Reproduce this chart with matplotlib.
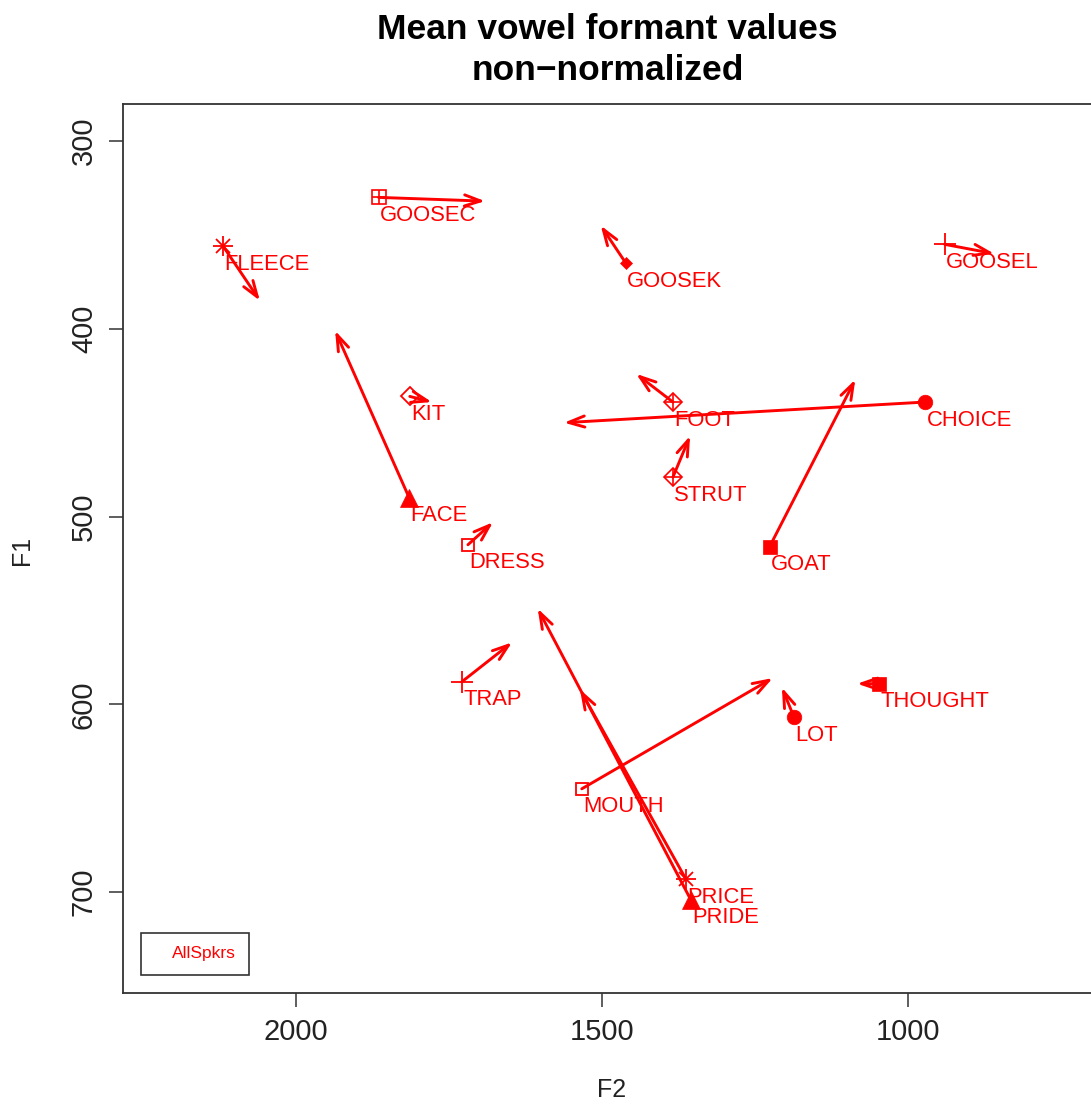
import matplotlib
matplotlib.use("Agg")
import matplotlib.pyplot as plt
from matplotlib.patches import FancyArrowPatch
from matplotlib.lines import Line2D

plt.rcParams["font.family"] = ["Liberation Sans", "DejaVu Sans"]

# Mean formant values per vowel: nucleus (start) and glide target (end), in Hz
vowels = ["FLEECE", "GOOSEC", "GOOSEK", "GOOSEL", "KIT", "FACE", "DRESS", "TRAP",
          "FOOT", "STRUT", "CHOICE", "GOAT", "THOUGHT", "LOT", "MOUTH", "PRICE", "PRIDE"]
f2_start = [2119, 1865, 1461, 940, 1814, 1815, 1719, 1729,
            1384, 1384, 972, 1226, 1047, 1186, 1533, 1363, 1355]
f1_start = [356, 330, 365, 355, 436, 490, 515, 588,
            439, 479, 439, 516, 589, 607, 645, 693, 704]
f2_end = [2059, 1691, 1502, 859, 1778, 1936, 1678, 1647,
          1444, 1356, 1562, 1086, 1083, 1206, 1221, 1536, 1605]
f1_end = [385, 332, 345, 360, 439, 401, 503, 567,
          424, 457, 450, 427, 589, 591, 586, 592, 549]
# R-style plotting symbols for each vowel
symbols = ["asterisk", "boxplus", "diamond_filled", "plus", "diamond", "triangle", "square", "plus",
           "diamondplus", "diamondplus", "circle", "square_filled", "square_filled", "circle",
           "square", "asterisk", "triangle"]

speaker = "AllSpkrs"
col = "#ff0000"


def draw_symbol(ax, x, y, kind):
    kw = dict(color=col, linestyle="none", zorder=3)
    if kind == "asterisk":
        ax.plot(x, y, marker="+", ms=14, mew=1.3, **kw)
        ax.plot(x, y, marker="x", ms=10, mew=1.3, **kw)
    elif kind == "plus":
        ax.plot(x, y, marker="+", ms=16, mew=1.3, **kw)
    elif kind == "boxplus":
        ax.plot(x, y, marker="s", ms=10, mew=1.2, mfc="none", **kw)
        ax.plot(x, y, marker="+", ms=10, mew=1.2, **kw)
    elif kind == "diamond":
        ax.plot(x, y, marker="D", ms=9.5, mew=1.3, mfc="none", **kw)
    elif kind == "diamondplus":
        ax.plot(x, y, marker="D", ms=9.5, mew=1.2, mfc="none", **kw)
        ax.plot(x, y, marker="+", ms=12.5, mew=1.2, **kw)
    elif kind == "diamond_filled":
        ax.plot(x, y, marker="D", ms=6, mew=0.5, **kw)
    elif kind == "triangle":
        ax.plot(x, y, marker="^", ms=13, mew=0.5, **kw)
    elif kind == "square":
        ax.plot(x, y, marker="s", ms=9, mew=1.3, mfc="none", **kw)
    elif kind == "square_filled":
        ax.plot(x, y, marker="s", ms=10.5, mew=0.5, **kw)
    elif kind == "circle":
        ax.plot(x, y, marker="o", ms=10.5, mew=0.5, **kw)


fig = plt.figure(figsize=(10.91, 11.06), dpi=100)
ax = fig.add_axes([0.1127, 0.1024, 0.8937, 0.8035])

for name, x0, y0, x1, y1, sym in zip(vowels, f2_start, f1_start, f2_end, f1_end, symbols):
    arrow = FancyArrowPatch((x0, y0), (x1, y1),
                            arrowstyle="->,head_length=0.58,head_width=0.2",
                            mutation_scale=20, lw=2.1, color=col,
                            shrinkA=0, shrinkB=0, zorder=2)
    ax.add_patch(arrow)
    draw_symbol(ax, x0, y0, sym)
    ax.annotate(name, (x0, y0), xytext=(1, -17), textcoords="offset points",
                ha="left", va="baseline", fontsize=15.8, color=col, zorder=4)

# formant axes are reversed, as in a vowel chart
ax.set_xlim(2282.7, 689.5)
ax.set_ylim(753.6, 280.3)
ax.set_xticks([2000, 1500, 1000])
ax.set_yticks([300, 400, 500, 600, 700])
ax.tick_params(direction="out", length=10, width=1.1, color="#333333",
               labelsize=21, labelcolor="#222222", pad=8)
ax.tick_params(axis="y", labelrotation=90)
for lab in ax.get_yticklabels():
    lab.set_va("center")
for s in ax.spines.values():
    s.set_linewidth(1.3)
    s.set_color("#333333")

leg = ax.legend(handles=[Line2D([], [], linestyle="none")], labels=[speaker],
                loc="lower left", fontsize=12.5, labelcolor=col, fancybox=False,
                edgecolor="#333333", framealpha=1, borderpad=0.75,
                handlelength=0.75, handletextpad=0.3, borderaxespad=1.05)
leg.get_frame().set_linewidth(1.2)

fig.text(0.561, 1 - 1090 / 1106, "F2", ha="center", va="center",
         fontsize=18, color="#222222")
fig.text(22 / 1091, 1 - 550 / 1106, "F1", ha="center", va="center",
         rotation=90, fontsize=18, color="#222222")
fig.text(0.557, 1 - 39 / 1106, "Mean vowel formant values",
         ha="center", va="baseline", fontsize=25.5, fontweight="bold")
fig.text(0.557, 1 - 80 / 1106, "non\u2212normalized",
         ha="center", va="baseline", fontsize=25.5, fontweight="bold")

fig.savefig("out.png", dpi=100)
